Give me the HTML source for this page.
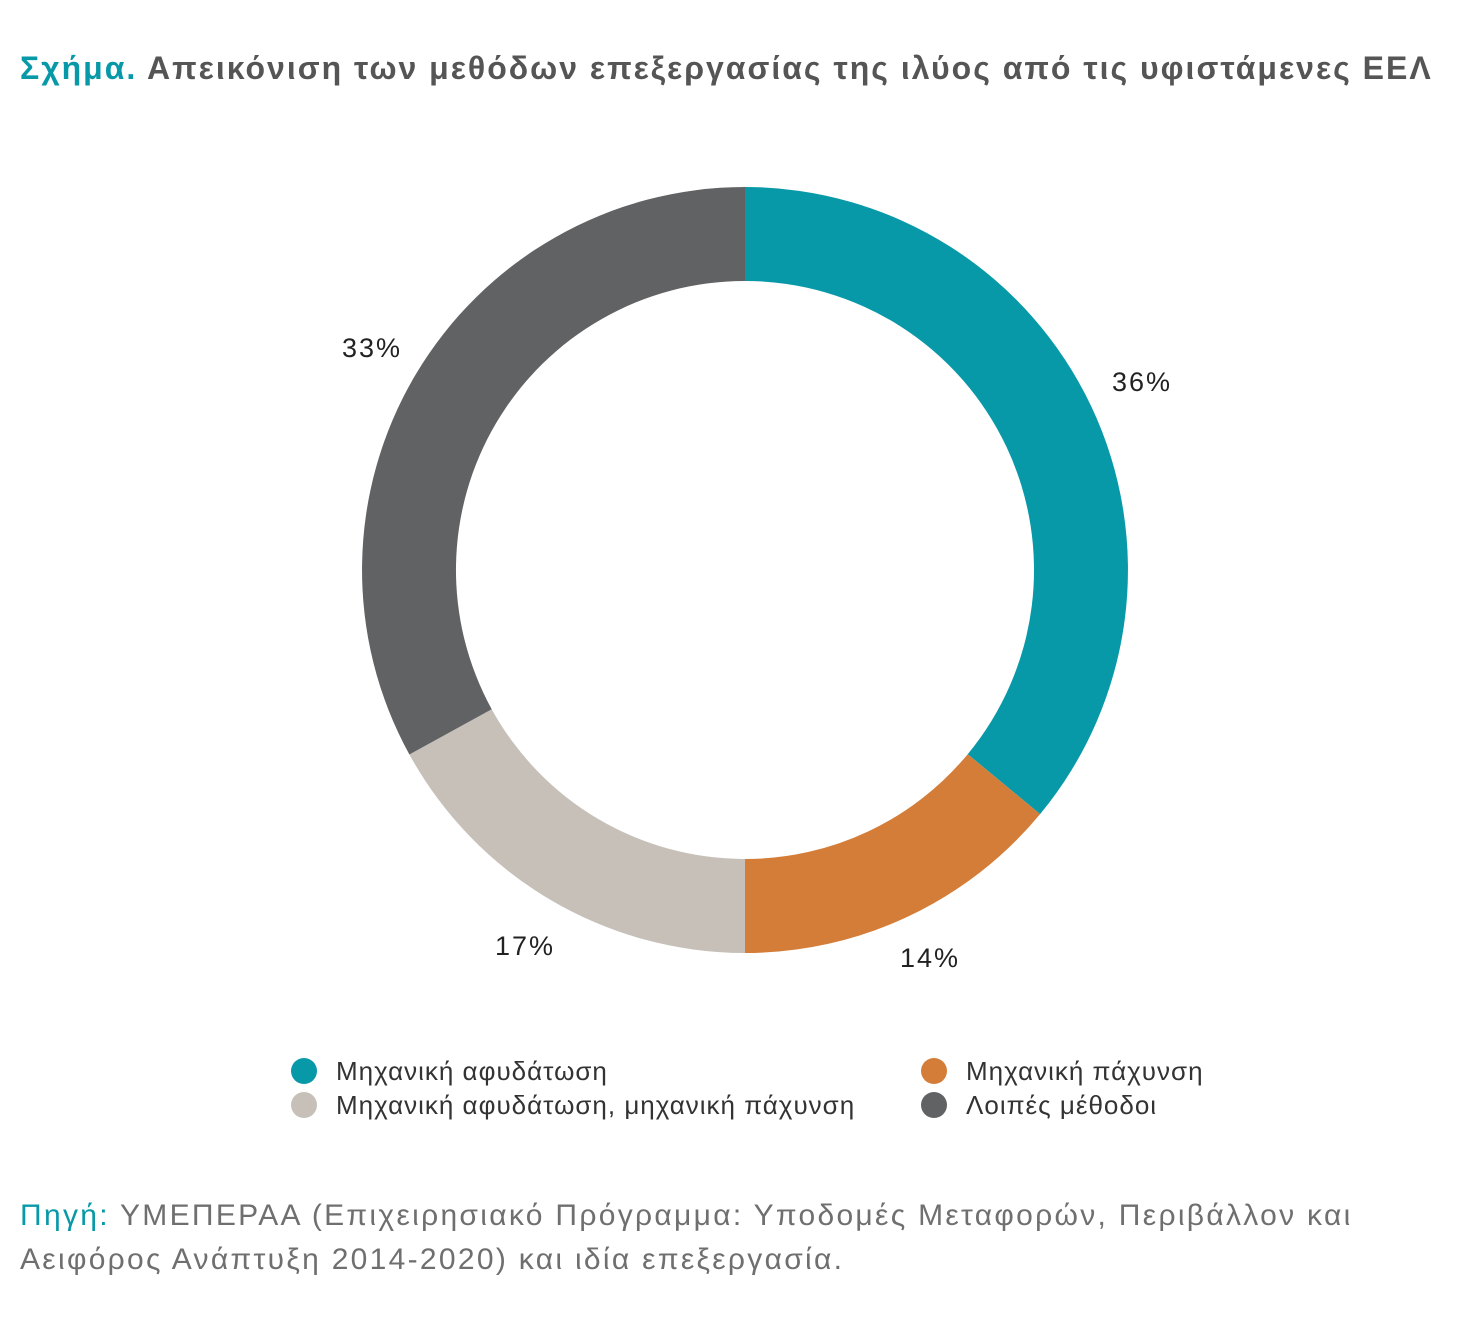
<!DOCTYPE html>
<html><head><meta charset="utf-8"><style>
body{margin:0;width:1462px;height:1331px;background:#fff;font-family:"Liberation Sans","DejaVu Sans",sans-serif;overflow:hidden;position:relative}
.t{position:absolute;left:20px;top:50px;font-size:32px;letter-spacing:2px;font-weight:bold;color:#555;white-space:nowrap}
.t span{color:#0899a9}
.lg{position:absolute;font-size:26px;letter-spacing:1.0px;color:#333;white-space:nowrap}
.dot{position:absolute;width:26px;height:26px;border-radius:50%}
.src{position:absolute;left:20px;top:1194px;font-size:30px;letter-spacing:2.3px;line-height:44px;color:#6f6f6f;white-space:nowrap}
.src span{color:#0899a9}
</style></head><body>
<div class="t"><span>Σχήμα.</span> Απεικόνιση των μεθόδων επεξεργασίας της ιλύος από τις υφιστάμενες ΕΕΛ</div>
<svg width="1462" height="1331" style="position:absolute;left:0;top:0">
<path d="M745,187 A383,383 0 0 1 1040.1,814.1 L967.7,754.2 A289,289 0 0 0 745,281Z" fill="#0899a9"/>
<path d="M1040.1,814.1 A383,383 0 0 1 745,953 L745,859 A289,289 0 0 0 967.7,754.2Z" fill="#d47d38"/>
<path d="M745,953 A383,383 0 0 1 409.4,754.5 L491.7,709.2 A289,289 0 0 0 745,859Z" fill="#c6c0b8"/>
<path d="M409.4,754.5 A383,383 0 0 1 745,187 L745,281 A289,289 0 0 0 491.7,709.2Z" fill="#616264"/>
<g font-size="27" fill="#222" letter-spacing="2" font-family="Liberation Sans, sans-serif">
<text x="342" y="357">33%</text>
<text x="1112" y="391">36%</text>
<text x="495" y="955">17%</text>
<text x="900" y="967">14%</text>
</g>
</svg>
<div class="dot" style="left:291px;top:1058px;background:#0899a9"></div>
<div class="lg" style="left:336px;top:1056px">Μηχανική αφυδάτωση</div>
<div class="dot" style="left:291px;top:1092px;background:#c6c0b8"></div>
<div class="lg" style="left:336px;top:1090px">Μηχανική αφυδάτωση, μηχανική πάχυνση</div>
<div class="dot" style="left:921px;top:1058px;background:#d47d38"></div>
<div class="lg" style="left:966px;top:1056px">Μηχανική πάχυνση</div>
<div class="dot" style="left:921px;top:1092px;background:#616264"></div>
<div class="lg" style="left:966px;top:1090px">Λοιπές μέθοδοι</div>
<div class="src"><span>Πηγή:</span> ΥΜΕΠΕΡΑΑ (Επιχειρησιακό Πρόγραμμα: Υποδομές Μεταφορών, Περιβάλλον και<br>Αειφόρος Ανάπτυξη 2014-2020) και ιδία επεξεργασία.</div>
</body></html>
